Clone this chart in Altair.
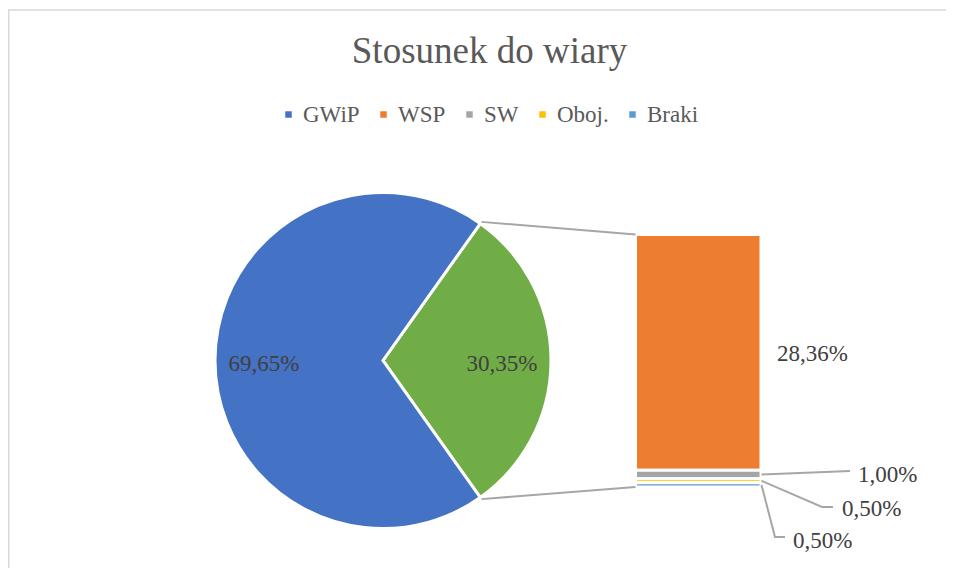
import math
import altair as alt
import pandas as pd

# ---------------- data ----------------
title_text = "Stosunek do wiary"
categories = ["GWiP", "WSP", "SW", "Oboj.", "Braki"]
category_colors = ["#4472C4", "#ED7D31", "#A5A5A5", "#FFC000", "#5B9BD5"]
pie_categories = ["Inne", "GWiP"]          # "Inne" = the split-off slice
pie_values = [30.35, 69.65]
pie_labels = ["30,35%", "69,65%"]
other_color = "#70AD47"
bar_categories = ["WSP", "SW", "Oboj.", "Braki"]
bar_values = [28.36, 1.00, 0.50, 0.50]
bar_labels = ["28,36%", "1,00%", "0,50%", "0,50%"]

# ---------------- layout ----------------
W, H = 938, 560
CX, CY, R = 375.0, 352.5, 168.0
LABEL_R = 119
BAR_X0, BAR_X1 = 627.5, 753.0
BAR_TOP, BAR_BOT = 226.5, 479.0
FONT = "Liberation Serif"
TXT = "#404040"
GREY_TXT = "#595959"
LINE = "#A6A6A6"
FRAME = "#D9D9D9"

total_pie = sum(pie_values)
other_span = pie_values[0] / total_pie * 2 * math.pi
start = math.pi / 2 - other_span / 2
theta_scale = alt.Scale(domain=[0, total_pie], range=[start, start + 2 * math.pi])

color_scale = alt.Scale(domain=categories + ["Inne"], range=category_colors + [other_color])
legend = alt.Legend(
    values=categories, orient="none", legendX=269, legendY=95, direction="horizontal",
    symbolType="square", symbolSize=42, symbolStrokeWidth=0, labelFont=FONT,
    labelFontSize=23, labelColor=GREY_TXT, columnPadding=12, labelOffset=3,
    gridAlign="none", title=None, padding=0, labelLimit=0,
)

pie_df = pd.DataFrame({"cat": pie_categories, "value": pie_values,
                       "ord": list(range(len(pie_values))), "label": pie_labels})

# bar cumulative
total_bar = sum(bar_values)
v0, v1, acc = [], [], 0.0
for v in bar_values:
    v0.append(acc)
    acc += v
    v1.append(acc)
bar_df = pd.DataFrame({"cat": bar_categories, "v0": v0, "v1": v1, "label": bar_labels})


def ypx(v):
    return BAR_TOP + v / total_bar * (BAR_BOT - BAR_TOP)


mids = [(a + b) / 2 for a, b in zip(v0, v1)]

# connectors from pie edges to bar corners
a_top = start
a_bot = start + other_span
rc = R + 2
conn_df = pd.DataFrame({
    "x": [CX + rc * math.sin(a_top), CX + rc * math.sin(a_bot)],
    "y": [CY - rc * math.cos(a_top), CY - rc * math.cos(a_bot)],
    "x2": [BAR_X0, BAR_X0],
    "y2": [BAR_TOP, BAR_BOT],
})

# label placement (layout) for the bar labels
label_left = [BAR_X1 + 16, 850, 834, 785]
label_base = [ypx(mids[0]) + 9, 473.7, 508, 540]
elbows = [None, [(842, 463)], [(814, 499), (825, 499)], [(767, 529), (777, 529)]]
lead_rows = []
for i in range(1, len(bar_categories)):
    pts = [(BAR_X1 + 0.5, ypx(mids[i]))] + elbows[i]
    for j, (x, y) in enumerate(pts):
        lead_rows.append({"grp": bar_categories[i], "idx": j, "x": x, "y": y})
lead_df = pd.DataFrame(lead_rows)
blab_df = pd.DataFrame({"label": bar_labels, "x": label_left, "y": label_base})

# ---------------- chart ----------------
one = pd.DataFrame({"t": [title_text]})

# chart frame: thin filled strips along the top and left edges
frame_top = alt.Chart(one).mark_rect(color=FRAME, strokeWidth=0).encode(
    x=alt.value(0), x2=alt.value(W), y=alt.value(1.25), y2=alt.value(2.75))
frame_left = alt.Chart(one).mark_rect(color=FRAME, strokeWidth=0).encode(
    x=alt.value(0), x2=alt.value(1.5), y=alt.value(1.25), y2=alt.value(H))

arc = alt.Chart(pie_df).mark_arc(radius=R, stroke="white", strokeWidth=3).encode(
    theta=alt.Theta("value:Q", stack=True, scale=theta_scale),
    color=alt.Color("cat:N", scale=color_scale, legend=legend),
    order=alt.Order("ord:Q"),
    x=alt.value(CX), y=alt.value(CY),
)
pie_text = alt.Chart(pie_df).mark_text(
    radius=LABEL_R, font=FONT, fontSize=23, color=TXT, baseline="middle", dy=3
).encode(
    theta=alt.Theta("value:Q", stack=True, scale=theta_scale),
    order=alt.Order("ord:Q"),
    detail="cat:N",
    text="label:N",
    x=alt.value(CX), y=alt.value(CY),
)

bar = alt.Chart(bar_df).mark_rect(stroke="white", strokeWidth=3).encode(
    y=alt.Y("v0:Q", scale=alt.Scale(domain=[0, total_bar], range=[BAR_TOP, BAR_BOT], nice=False, zero=False), axis=None),
    y2="v1:Q",
    x=alt.value(BAR_X0), x2=alt.value(BAR_X1),
    color=alt.Color("cat:N", scale=color_scale, legend=legend),
)

connectors = alt.Chart(conn_df).mark_rule(color=LINE, strokeWidth=2).encode(
    x=alt.X("x:Q", scale=None, axis=None), y=alt.Y("y:Q", scale=None, axis=None),
    x2="x2:Q", y2="y2:Q",
)
leaders = alt.Chart(lead_df).mark_line(color=LINE, strokeWidth=2).encode(
    x=alt.X("x:Q", scale=None, axis=None), y=alt.Y("y:Q", scale=None, axis=None),
    detail="grp:N", order="idx:Q",
)
bar_text = alt.Chart(blab_df).mark_text(
    font=FONT, fontSize=23, color=TXT, align="left", baseline="alphabetic"
).encode(
    x=alt.X("x:Q", scale=None, axis=None), y=alt.Y("y:Q", scale=None, axis=None),
    text="label:N",
)
title = alt.Chart(one).mark_text(
    font=FONT, fontSize=37, color=GREY_TXT, align="center", baseline="alphabetic"
).encode(x=alt.value(481.5), y=alt.value(55), text="t:N")

chart = alt.layer(
    frame_top, frame_left, arc, pie_text, bar, connectors, leaders, bar_text, title
).resolve_scale(x="independent", y="independent").properties(
    width=W, height=H, padding=0, autosize=alt.AutoSizeParams(type="none"),
    background="white",
).configure_view(stroke=None, strokeWidth=0)

chart.save("out.html", embed_options={"renderer": "svg", "actions": False})
